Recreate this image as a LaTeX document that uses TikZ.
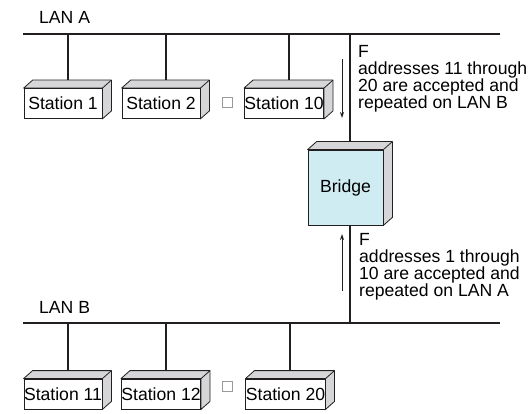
\documentclass[tikz,border=0pt]{standalone}
\usepackage{fontspec}
\setmainfont{Liberation Sans}
\usetikzlibrary{arrows.meta}
\definecolor{Ink}{HTML}{231F20}
\definecolor{Shade}{HTML}{D6D6D8}
\definecolor{BridgeF}{HTML}{D0ECF3}
\definecolor{GapC}{HTML}{9A9A9A}

\tikzset{
  box3d/.style={draw=Ink, line width=0.8pt, inner sep=0pt,
    append after command={\pgfextra{
      \edef\boxnm{\tikzlastnode}
      \draw[draw=Ink, fill=Shade, line width=0.8pt, line join=round]
        (\boxnm.north west) -- ++(9,-8) -- ([shift={(9,-8)}]\boxnm.north east)
        -- ([shift={(9,-8)}]\boxnm.south east) -- (\boxnm.south east)
        -- (\boxnm.north east) -- cycle;
      \draw[draw=Ink, line width=0.8pt] (\boxnm.north east) -- ++(9,-8);
      \coordinate (\boxnm-top) at ([shift={(4.5,-8)}]\boxnm.north);
      \coordinate (\boxnm-bot) at ([xshift=4.5pt]\boxnm.south);
    }}}
}

\begin{document}
\begin{tikzpicture}[x=1pt, y=-1pt, font=\fontsize{17.6}{17}\selectfont,
    station/.style={box3d, fill=white, minimum width=78pt, minimum height=30pt},
    bridgebox/.style={box3d, fill=BridgeF, minimum width=75pt, minimum height=75pt},
    bus/.style={draw=Ink, line width=2.4pt},
    drop/.style={draw=Ink, line width=2pt},
    flow/.style={draw=Ink, line width=0.9pt, -{Stealth[length=6pt,width=4pt]}},
    gap/.style={draw=GapC, line width=0.6pt, minimum size=10pt, inner sep=0pt},
    lbl/.style={anchor=base west, inner sep=0pt},
    note/.style={anchor=north west, align=left, inner sep=0pt}]
  \useasboundingbox (0,0) rectangle (529,414);
  % LAN A with its stations
  \coordinate (lanAw) at (23,34);
  \coordinate (lanAe) at (500,34);
  \draw[bus] (lanAw) -- (lanAe);
  \node[lbl] (lanAlbl) at (39,24) {LAN A};
  \node[station] (s1) at (63,103.5) {Station 1};
  \node[station] (s2) at (161,103.5) {Station 2};
  \node[gap] (gapA) at (227,102) {};
  \node[station] (s10) at (284,103.5) {Station 10};
  \foreach \s in {s1,s2,s10}
    \draw[drop] (\s-top) -- (\s-top |- lanAw);
  % LAN B with its stations
  \coordinate (lanBw) at (23,323);
  \coordinate (lanBe) at (500,323);
  \draw[bus] (lanBw) -- (lanBe);
  \node[lbl] (lanBlbl) at (39,313) {LAN B};
  \node[station] (s11) at (63,394) {Station 11};
  \node[station] (s12) at (161,394) {Station 12};
  \node[gap] (gapB) at (227,386) {};
  \node[station] (s20) at (285.5,394) {Station 20};
  \foreach \s in {s11,s12,s20}
    \draw[drop] (\s-top) -- (\s-top |- lanBw);
  % bridge
  \node[bridgebox] (bridge) at (345.5,187.5) {Bridge};
  \draw[drop] (bridge-top) -- (bridge-top |- lanAw);
  \draw[drop] (bridge-bot) -- (bridge-bot |- lanBw);
  % frames passed across
  \coordinate (dnA) at (342,59);
  \coordinate (dnB) at (342,118);
  \draw[flow] (dnA) -- (dnB);
  \node[note] (noteA) at (358,45.2) {F\\addresses 11 through\\20 are accepted and\\repeated on LAN B};
  \coordinate (upA) at (342,291);
  \coordinate (upB) at (342,234);
  \draw[flow] (upA) -- (upB);
  \node[note] (noteB) at (359,233.5) {F\\addresses 1 through\\10 are accepted and\\repeated on LAN A};
\end{tikzpicture}
\end{document}
